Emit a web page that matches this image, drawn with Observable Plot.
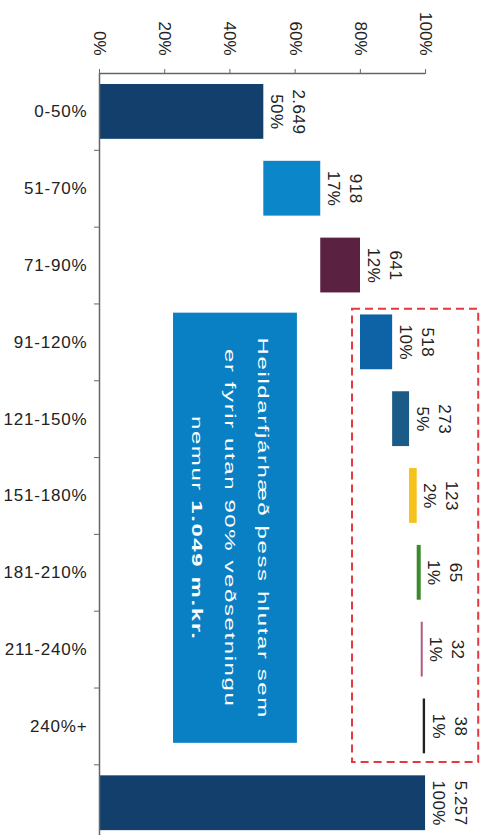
<!DOCTYPE html>
<html><head><meta charset="utf-8">
<script src="https://cdn.jsdelivr.net/npm/d3@7"></script>
<script src="https://cdn.jsdelivr.net/npm/@observablehq/plot@0.6"></script>
<style>
html,body{margin:0;padding:0;background:#fff;}
#chart{width:488px;height:835px;overflow:hidden;}
</style></head><body><div id="chart"></div>
<script>
// ---- data ----
const categories = ["0-50%","51-70%","71-90%","91-120%","121-150%","151-180%","181-210%","211-240%","240%+"];
const amounts = [2649, 918, 641, 518, 273, 123, 65, 32, 38];
const totalAmount = 5257;
const pctLabels = ["50%","17%","12%","10%","5%","2%","1%","1%","1%","100%"];
const barColors = ["#123f6c","#0b87c9","#5a2141","#0d63a5","#1b5b87","#f5c21b","#3b8b2c","#b05a7c","#222222","#123f6c"];
const xTicks = [0, 20, 40, 60, 80, 100];
const noteLines = ["Heildarfjárhæð þess hlutar sem", "er fyrir utan 90% veðsetningu", "nemur 1.049 m.kr."];
const noteBold = "1.049 m.kr.";
// annotation extents (in chart units: % on x, category slots on y)
const noteBox = {x1: 22.7, x2: 60.7, y1: 3.12, y2: 8.72};
const dashBox = {x1: 77.6, x2: 116.3, y1: 3.07, y2: 8.97};

const fmt = d3.formatLocale({decimal: ",", thousands: ".", grouping: [3], currency: ["", ""]}).format(",d");

let cum = 0;
const rows = amounts.map((a, i) => {
  const start = cum / totalAmount * 100; cum += a;
  return {i, start, end: cum / totalAmount * 100, amount: a, pct: pctLabels[i], color: barColors[i]};
});
rows.push({i: categories.length, start: 0, end: 100, amount: totalAmount, pct: pctLabels[categories.length], color: barColors[categories.length]});

const plot = Plot.plot({
  width: 488, height: 835,
  marginLeft: 99, marginRight: 0, marginTop: 73, marginBottom: 0,
  style: {fontFamily: "'Liberation Sans', Arial, sans-serif", fontSize: "17px", color: "#222", background: "#fff"},
  x: {domain: [0, 119.3], label: null},
  y: {domain: [0, 9.92], reverse: true, label: null},
  marks: [
    Plot.rect([dashBox], {x1: "x1", x2: "x2", y1: "y1", y2: "y2", fill: "none", stroke: "#e23a3e", strokeWidth: 2, strokeDasharray: "8,5"}),
    Plot.rect(rows, {x1: "start", x2: "end", y1: "i", y2: d => d.i + 1, insetTop: 11, insetBottom: 11, fill: "color"}),
    Plot.text(rows, {x: "end", y: d => d.i + 0.5, text: d => fmt(d.amount) + "\n" + d.pct, rotate: 90,
      textAnchor: "middle", lineAnchor: "bottom", lineHeight: 1.3, dx: 7, fontSize: 17, fill: "#222"}),
    Plot.rect([noteBox], {x1: "x1", x2: "x2", y1: "y1", y2: "y2", fill: "#0a80c4"}),
    Plot.text([noteLines.join("\n")], {x: (noteBox.x1 + noteBox.x2) / 2, y: (noteBox.y1 + noteBox.y2) / 2, text: d => d,
      rotate: 90, fill: "white", fontSize: 15, lineHeight: 2.2, textAnchor: "middle", lineAnchor: "middle"}),
    Plot.ruleY([0], {x1: 0, x2: 100, stroke: "#666", strokeWidth: 1.5}),
    Plot.ruleX([0], {y1: 0, y2: 9.92, stroke: "#666", strokeWidth: 1.5}),
    Plot.axisX(xTicks, {anchor: "top", tickSize: 5, tickPadding: 13, tickRotate: 90, textAnchor: "end", lineAnchor: "middle",
      tickFormat: d => d + "%", fontSize: 17, stroke: "#666", label: null}),
    Plot.axisY(d3.range(1, 10), {anchor: "left", tickSize: 5, fill: "none", stroke: "#666", label: null}),
    Plot.axisY(d3.range(categories.length).map(i => i + 0.5), {anchor: "left", tickSize: 0, tickPadding: 12,
      tickFormat: d => categories[Math.floor(d)], fontSize: 17, label: null})
  ]
});

const sel = d3.select(plot);
// category labels: slightly wider set
sel.selectAll('g[aria-label="y-axis tick label"] text').style("letter-spacing", "0.8px");
sel.selectAll("text").each(function() {
  const el = d3.select(this);
  const content = this.textContent;
  if (content.includes("Heildar")) {
    el.style("letter-spacing", "1px");
    const tr = el.attr("transform") || "";
    el.attr("transform", tr + " scale(1.6,1)");
    el.selectAll("tspan").each(function() {
      const t = this.textContent;
      if (t.includes(noteBold)) {
        this.textContent = t.replace(noteBold, "");
        d3.select(this).append("tspan").attr("font-weight", "bold").text(noteBold);
      }
    });
  } else if (this.parentNode && this.parentNode.getAttribute("aria-label") === "text") {
    el.style("letter-spacing", "0.5px");
  }
});
document.getElementById("chart").appendChild(plot);
</script></body></html>
